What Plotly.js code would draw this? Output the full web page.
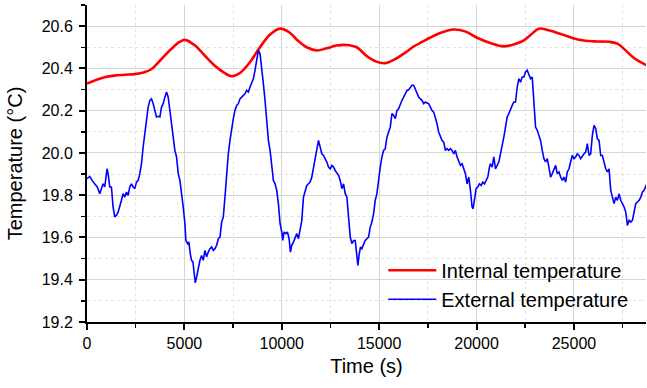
<!DOCTYPE html>
<html>
<head>
<meta charset="utf-8">
<script src="https://cdn.plot.ly/plotly-3.0.1.min.js"></script>
<style>html,body{margin:0;padding:0;background:#fff;}#chart{width:647px;height:388px;}</style>
</head>
<body>
<div id="chart"></div>
<script>
// Internal temperature (s, °C)
var internalTime = [0, 400, 900, 1400, 1950, 2450, 2950, 3300, 3850, 4350, 4750, 5030, 5550, 6050, 6550, 7000, 7430, 7850, 8370, 8880, 9400, 9910, 10400, 10770, 11280, 11800, 12300, 12800, 13300, 13850, 14370, 14850, 15310, 15800, 16340, 16800, 17200, 17600, 18200, 18830, 19450, 20030, 20700, 21400, 22050, 22430, 22800, 23200, 23700, 24400, 25000, 25500, 26000, 26400, 26800, 27230, 27600, 28100, 28780];
var internalTemp = [20.328, 20.343, 20.358, 20.366, 20.370, 20.373, 20.382, 20.396, 20.447, 20.494, 20.525, 20.535, 20.508, 20.460, 20.414, 20.382, 20.363, 20.378, 20.430, 20.500, 20.560, 20.588, 20.570, 20.536, 20.500, 20.485, 20.495, 20.508, 20.511, 20.500, 20.458, 20.432, 20.425, 20.443, 20.475, 20.505, 20.525, 20.545, 20.570, 20.584, 20.574, 20.545, 20.520, 20.504, 20.518, 20.533, 20.560, 20.588, 20.580, 20.560, 20.542, 20.532, 20.528, 20.527, 20.526, 20.517, 20.490, 20.448, 20.412];

// External temperature (s, °C)
var externalTime = [0, 139, 259, 396, 534, 654, 740, 825, 911, 1031, 1083, 1168, 1254, 1340, 1426, 1511, 1597, 1683, 1769, 1854, 1940, 2026, 2111, 2197, 2283, 2369, 2455, 2540, 2626, 2712, 2798, 2883, 2969, 3055, 3140, 3226, 3312, 3398, 3484, 3569, 3655, 3741, 3827, 3912, 3998, 4084, 4169, 4255, 4341, 4427, 4512, 4598, 4684, 4770, 4855, 4941, 5027, 5078, 5164, 5232, 5301, 5370, 5439, 5490, 5559, 5627, 5713, 5799, 5884, 5970, 6056, 6142, 6227, 6313, 6399, 6485, 6570, 6656, 6742, 6828,
  6912, 6998, 7083, 7169, 7255, 7341, 7426, 7512, 7598, 7684, 7769, 7855, 7941, 8027, 8112, 8198, 8284, 8370, 8455, 8541, 8627, 8713, 8798, 8884, 8970, 9056, 9141, 9227, 9313, 9399, 9484, 9570, 9656, 9742, 9827, 9913, 9999, 10050, 10119, 10205, 10290, 10376, 10445, 10513, 10599, 10685, 10771, 10856, 10942, 11028, 11114, 11199, 11285, 11371, 11457, 11542, 11628, 11714, 11800, 11885, 11971, 12057, 12143, 12228, 12314, 12400, 12486, 12571, 12657, 12743, 12829, 12914, 13000, 13086, 13172, 13257, 13343, 13429, 13515, 13600, 13686,
  13770, 13856, 13907, 13976, 14044, 14113, 14199, 14285, 14370, 14456, 14542, 14628, 14713, 14799, 14885, 14971, 15056, 15142, 15228, 15313, 15399, 15485, 15571, 15656, 15742, 15828, 15914, 15999, 16085, 16171, 16257, 16342, 16428, 16514, 16600, 16685, 16771, 16857, 16943, 17028, 17114, 17200, 17286, 17371, 17457, 17543, 17628, 17714, 17800, 17886, 17971, 18057, 18143, 18229, 18314, 18400, 18486, 18572, 18657, 18743, 18829, 18915, 19000, 19086, 19172, 19258, 19343, 19429, 19515, 19601, 19686, 19772, 19824, 19892, 19978, 20064, 20150, 20235, 20321, 20407, 20493, 20578, 20664,
  20715, 20801, 20887, 20972, 21058, 21144, 21230, 21315, 21401, 21487, 21573, 21658, 21744, 21830, 21916, 22001, 22087, 22173, 22258, 22344, 22430, 22516, 22601, 22687, 22773, 22859, 22944, 23030, 23116, 23202, 23287, 23373, 23459, 23545, 23630, 23716, 23802, 23888, 23973, 24059, 24145, 24231, 24316, 24402, 24488, 24574, 24659, 24745, 24831, 24917, 25002, 25088, 25174, 25260, 25345, 25431, 25517, 25603, 25688, 25774, 25860, 25946, 26031, 26117, 26203, 26289, 26374, 26460, 26546, 26632, 26717, 26803, 26889, 26975, 27060, 27146, 27232, 27318, 27403, 27489, 27575, 27661, 27746, 27832, 27918, 28004, 28089, 28175, 28261, 28347, 28432, 28518, 28604, 28690, 28776];
var externalTemp = [19.878, 19.889, 19.870, 19.854, 19.838, 19.807, 19.831, 19.854, 19.839, 19.925, 19.902, 19.839, 19.839, 19.744, 19.697, 19.705, 19.720, 19.744, 19.776, 19.807, 19.791, 19.815, 19.799, 19.839, 19.854, 19.839, 19.831, 19.862, 19.870, 19.902, 19.949, 20.028, 20.091, 20.170, 20.217, 20.249, 20.256, 20.233, 20.201, 20.170, 20.173, 20.170, 20.217, 20.233, 20.264, 20.288, 20.264, 20.201, 20.138, 20.091, 20.012, 19.981, 19.902, 19.870, 19.815, 19.744, 19.665, 19.586, 19.571, 19.578, 19.523, 19.492, 19.484, 19.444, 19.385, 19.413, 19.460, 19.492, 19.515, 19.492, 19.539, 19.508, 19.531, 19.547, 19.555, 19.539, 19.547, 19.563, 19.594, 19.602,
  19.673, 19.697, 19.791, 19.902, 19.996, 20.059, 20.122, 20.162, 20.201, 20.225, 20.233, 20.256, 20.264, 20.272, 20.280, 20.296, 20.288, 20.312, 20.335, 20.351, 20.391, 20.446, 20.485, 20.469, 20.406, 20.327, 20.249, 20.138, 20.059, 20.012, 19.949, 19.870, 19.854, 19.823, 19.760, 19.665, 19.626, 19.586, 19.626, 19.618, 19.626, 19.594, 19.531, 19.563, 19.578, 19.602, 19.618, 19.594, 19.634, 19.681, 19.791, 19.823, 19.846, 19.854, 19.862, 19.886, 19.933, 19.973, 20.028, 20.059, 20.028, 19.996, 19.988, 19.973, 19.957, 19.933, 19.925, 19.941, 19.933, 19.917, 19.902, 19.894, 19.870, 19.831, 19.854, 19.807, 19.791, 19.681, 19.602, 19.571, 19.586,
  19.586, 19.523, 19.468, 19.523, 19.555, 19.547, 19.571, 19.586, 19.594, 19.602, 19.649, 19.673, 19.712, 19.776, 19.807, 19.886, 19.933, 19.981, 20.012, 20.020, 20.075, 20.099, 20.122, 20.186, 20.178, 20.162, 20.201, 20.209, 20.233, 20.249, 20.264, 20.280, 20.296, 20.299, 20.312, 20.320, 20.320, 20.299, 20.280, 20.264, 20.256, 20.249, 20.233, 20.241, 20.236, 20.233, 20.217, 20.201, 20.193, 20.170, 20.138, 20.099, 20.075, 20.059, 20.051, 20.012, 20.020, 20.012, 20.020, 20.012, 19.996, 20.012, 19.981, 19.965, 19.941, 19.949, 19.925, 19.902, 19.854, 19.886, 19.823, 19.744, 19.736, 19.791, 19.831, 19.839, 19.854, 19.846, 19.862, 19.854, 19.870, 19.886, 19.933,
  19.949, 19.933, 19.981, 19.925, 19.941, 19.957, 19.996, 20.028, 20.075, 20.122, 20.170, 20.186, 20.209, 20.225, 20.241, 20.241, 20.312, 20.351, 20.335, 20.359, 20.359, 20.383, 20.391, 20.375, 20.351, 20.359, 20.249, 20.122, 20.107, 20.083, 20.059, 20.012, 19.973, 19.957, 19.973, 19.933, 19.886, 19.902, 19.925, 19.941, 19.902, 19.910, 19.886, 19.870, 19.886, 19.862, 19.910, 19.925, 19.957, 19.988, 19.973, 19.981, 19.996, 19.988, 19.973, 19.988, 19.996, 20.004, 20.044, 19.988, 19.996, 20.083, 20.130, 20.115, 20.067, 20.059, 19.988, 19.988, 19.949, 19.925, 19.910, 19.925, 19.823, 19.791, 19.760, 19.791, 19.776, 19.807, 19.776, 19.760, 19.744, 19.720, 19.657, 19.681, 19.673, 19.681, 19.720, 19.760, 19.768, 19.776, 19.791, 19.815, 19.823, 19.846, 19.862];

var seriesNames = ['Internal temperature', 'External temperature'];
var xTitle = 'Time (s)';
var yTitle = 'Temperature (°C)';

var FONT = 'Liberation Sans, Arial, sans-serif';

var traces = [
  {x: internalTime, y: internalTemp, name: seriesNames[0], type: 'scatter', mode: 'lines',
   line: {color: '#ff0000', width: 2.6, shape: 'spline', smoothing: 1}},
  {x: externalTime, y: externalTemp, name: seriesNames[1], type: 'scatter', mode: 'lines',
   line: {color: '#0000ff', width: 1.6}}
];

var axisCommon = {
  showline: true, linecolor: '#000', linewidth: 2, mirror: false,
  ticks: 'outside', ticklen: 6, tickwidth: 2, tickcolor: '#000',
  showgrid: true, gridcolor: '#d6d6d6', gridwidth: 1, zeroline: false,
  tickfont: {family: FONT, size: 16, color: '#000'}
};

var layout = {
  width: 647, height: 388,
  margin: {l: 87, r: 1, t: 5, b: 66},
  paper_bgcolor: '#fff', plot_bgcolor: '#fff',
  font: {family: FONT, color: '#000'},
  showlegend: true,
  legend: {x: 0.53, xanchor: 'left', y: 0.225, yanchor: 'top', bgcolor: 'rgba(0,0,0,0)',
           itemwidth: 48,
           font: {family: FONT, size: 20, color: '#000'}, tracegroupgap: 0},
  xaxis: Object.assign({}, axisCommon, {
    range: [0, 28700], tick0: 0, dtick: 5000, tickformat: 'd',
    minor: {dtick: 2500, ticks: 'outside', ticklen: 4, tickwidth: 1.5, tickcolor: '#000',
            showgrid: true, gridcolor: '#e2e2e2', griddash: '3px,3px', gridwidth: 1},
    title: {text: xTitle, font: {family: FONT, size: 20, color: '#000'}, standoff: 8}
  }),
  yaxis: Object.assign({}, axisCommon, {
    range: [19.2, 20.7], tick0: 19.2, dtick: 0.2, tickformat: '.1f',
    ticklabelstandoff: 3,
    minor: {dtick: 0.1, ticks: 'outside', ticklen: 4, tickwidth: 1.5, tickcolor: '#000',
            showgrid: true, gridcolor: '#e2e2e2', griddash: '3px,3px', gridwidth: 1},
    title: {text: yTitle, font: {family: FONT, size: 20, color: '#000'}, standoff: 14}
  })
};

Plotly.newPlot('chart', traces, layout, {staticPlot: true, displayModeBar: false});
</script>
</body>
</html>
